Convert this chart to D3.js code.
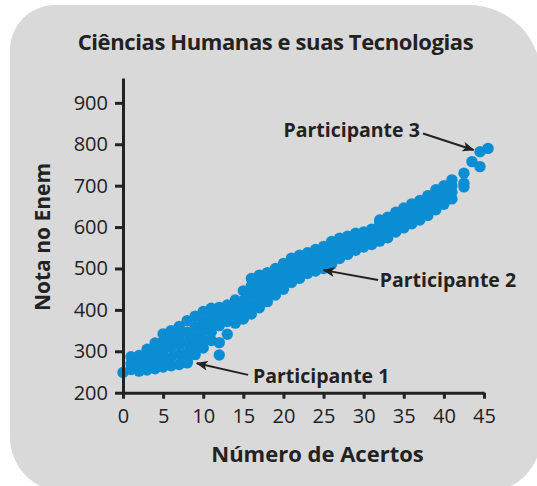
<!DOCTYPE html>
<html>
<head>
<meta charset="utf-8">
<script src="https://cdn.jsdelivr.net/npm/d3@7"></script>
<style>
  body { margin: 0; background: #ffffff; }
  svg { display: block; font-family: 'Open Sans', sans-serif; }
</style>
</head>
<body>
<svg width="537" height="486"></svg>
<script>
// Data
const titulo = 'Ciências Humanas e suas Tecnologias';
const rotuloX = 'Número de Acertos';
const rotuloY = 'Nota no Enem';
const ticksX = [0, 5, 10, 15, 20, 25, 30, 35, 40, 45];
const ticksY = [200, 300, 400, 500, 600, 700, 800, 900];

// one column of dots per number of correct answers
const acertos = [0, 1, 2, 3, 4, 5, 6, 7, 8, 9, 10, 11, 12, 13, 14, 15, 16, 17, 18, 19, 20,
    21, 22, 23, 24, 25, 26, 27, 28, 29, 30, 31, 32, 33, 34, 35, 36, 37, 38, 39, 40, 41,
    42.5, 43.5, 44.5, 45.5];
const notas = [
    [249],
    [256, 270, 287],
    [252, 266, 280, 290],
    [255, 272, 290, 305],
    [258, 276, 298, 320],
    [262, 282, 304, 324, 342],
    [265, 286, 310, 330, 350],
    [268, 292, 316, 338, 360],
    [272, 276, 298, 322, 346, 374],
    [292, 314, 336, 360, 385],
    [308, 328, 350, 372, 396],
    [326, 346, 366, 386, 404],
    [291, 321, 362, 384, 406],
    [341, 372, 392, 412],
    [368, 390, 408, 424],
    [378, 400, 422, 446],
    [390, 412, 436, 458, 476],
    [405, 428, 450, 470, 484],
    [420, 442, 462, 480, 490],
    [436, 456, 474, 490, 500],
    [450, 468, 486, 500, 512],
    [466, 482, 500, 515, 525],
    [476, 494, 510, 524, 532],
    [488, 502, 518, 530, 538],
    [494, 510, 526, 540, 546],
    [500, 516, 532, 545, 553],
    [510, 526, 542, 556, 565],
    [524, 538, 552, 565, 573],
    [534, 548, 560, 572, 578],
    [544, 556, 568, 580, 585],
    [552, 564, 576, 588],
    [558, 570, 582, 595],
    [566, 580, 596, 610, 617],
    [574, 590, 606, 624],
    [588, 602, 618, 636],
    [598, 612, 628, 646],
    [608, 622, 638, 656],
    [617, 632, 648, 664],
    [628, 644, 660, 676],
    [642, 656, 672, 690],
    [655, 668, 684, 700],
    [668, 684, 700, 714],
    [697, 706, 730],
    [758],
    [746, 782],
    [790]
];

// annotations: label, arrow tip, arrow tail and text anchor, in data units
const participantes = ['Participante 1', 'Participante 2', 'Participante 3'];
const pontaSeta = [[9.2, 271], [25, 496], [43.7, 786]];
const caudaSeta = [[15.6, 243], [31.8, 472], [37.4, 826]];
const posTexto = [[16.2, 223], [32, 456], [37, 817]];
const alinhaTexto = ['start', 'start', 'end'];

// Constants
const svg = d3.select('svg');
const width = +svg.attr('width');
const height = +svg.attr('height');
const dot_color = '#0b8dd4';
const ink = '#222222';

const x_scale = d3.scaleLinear().domain([0, 45]).range([123, 484]);
const y_scale = d3.scaleLinear().domain([200, 960]).range([392.7, 78]);

// Rounded grey panel (corners differ a little in the original)
const panel = (l, t, r, b, tl, tr, br, bl) => {
    const p = d3.path();
    p.moveTo(l + tl, t);
    p.lineTo(r - tr, t);
    p.arcTo(r, t, r, t + tr, tr);
    p.lineTo(r, b - br);
    p.arcTo(r, b, r - br, b, br);
    p.lineTo(l + bl, b);
    p.arcTo(l, b, l, b - bl, bl);
    p.lineTo(l, t + tl);
    p.arcTo(l, t, l + tl, t, tl);
    p.closePath();
    return p.toString();
};
svg.append('path')
    .attr('d', panel(10, 5, 541, 492, 45, 72, 55, 55))
    .attr('fill', '#d9d9d9');

// Title
svg.append('text')
    .attr('x', 275.5)
    .attr('y', 49.5)
    .attr('text-anchor', 'middle')
    .attr('fill', ink)
    .attr('font-size', '22px')
    .attr('letter-spacing', '-0.4px')
    .attr('font-weight', 'bold')
    .text(titulo);

// Dots
const pontos = [];
acertos.forEach((a, i) => notas[i].forEach(n => pontos.push({ acertos: a, nota: n })));
svg.append('g')
    .selectAll('circle')
    .data(pontos)
    .enter()
    .append('circle')
    .attr('cx', d => x_scale(d.acertos))
    .attr('cy', d => y_scale(d.nota))
    .attr('r', 5.7)
    .attr('fill', dot_color);

// Axes
const x_axis = svg.append('g')
    .attr('transform', `translate(0, ${y_scale(200)})`)
    .call(d3.axisBottom(x_scale).tickValues(ticksX).tickSize(6).tickSizeOuter(0).tickPadding(10));
const y_axis = svg.append('g')
    .attr('transform', `translate(${x_scale(0)}, 0)`)
    .call(d3.axisLeft(y_scale).tickValues(ticksY).tickSize(8).tickSizeOuter(0).tickPadding(7));
[x_axis, y_axis].forEach(ax => {
    ax.select('.domain').attr('stroke', ink).attr('stroke-width', 3);
    ax.selectAll('.tick line').attr('stroke', ink).attr('stroke-width', 3);
    ax.selectAll('.tick text')
        .attr('fill', ink)
        .attr('font-size', '20px')
        .attr('font-family', "'Open Sans', sans-serif");
});

// Axis titles
svg.append('text')
    .attr('x', 317.5)
    .attr('y', 461.5)
    .attr('text-anchor', 'middle')
    .attr('fill', ink)
    .attr('font-size', '22px')
    .attr('font-weight', 'bold')
    .text(rotuloX);
svg.append('text')
    .attr('transform', 'translate(50, 237) rotate(-90)')
    .attr('text-anchor', 'middle')
    .attr('fill', ink)
    .attr('font-size', '21px')
    .attr('font-weight', 'bold')
    .text(rotuloY);

// Annotations
svg.append('defs').append('marker')
    .attr('id', 'seta')
    .attr('viewBox', '0 0 12 10')
    .attr('refX', 11)
    .attr('refY', 5)
    .attr('markerWidth', 12)
    .attr('markerHeight', 10)
    .attr('markerUnits', 'userSpaceOnUse')
    .attr('orient', 'auto')
    .append('path')
    .attr('d', 'M0,0 L12,5 L0,10 L3,5 Z')
    .attr('fill', ink);

participantes.forEach((label, i) => {
    svg.append('line')
        .attr('x1', x_scale(caudaSeta[i][0]))
        .attr('y1', y_scale(caudaSeta[i][1]))
        .attr('x2', x_scale(pontaSeta[i][0]))
        .attr('y2', y_scale(pontaSeta[i][1]))
        .attr('stroke', ink)
        .attr('stroke-width', 2)
        .attr('marker-end', 'url(#seta)');
    svg.append('text')
        .attr('x', x_scale(posTexto[i][0]))
        .attr('y', y_scale(posTexto[i][1]))
        .attr('text-anchor', alinhaTexto[i])
        .attr('fill', ink)
        .attr('font-size', '19.5px')
        .attr('font-weight', 'bold')
        .text(label);
});
</script>
</body>
</html>
